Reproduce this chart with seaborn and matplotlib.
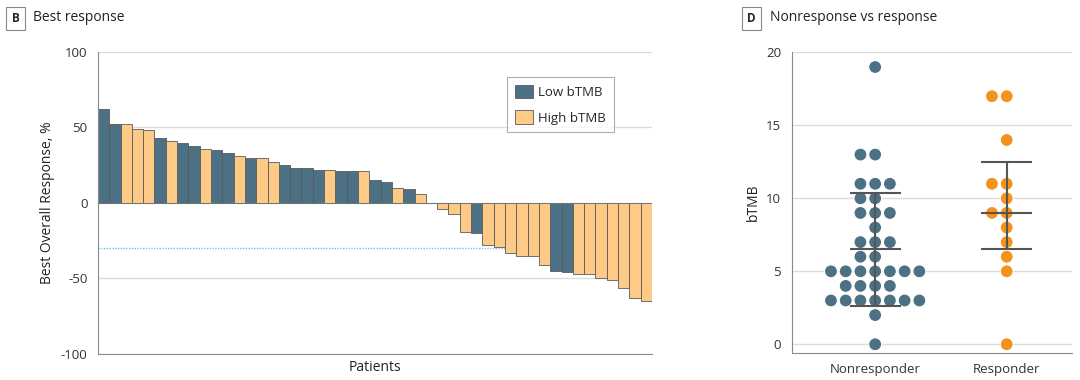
import numpy as np
import pandas as pd
import seaborn as sns
from matplotlib import pyplot as plt

# waterfall data (best overall response, %), sorted as in the figure
response = [62, 52, 52, 49, 48, 43, 41, 40, 38, 36, 35, 33, 31, 30, 30, 27, 25,
            23, 23, 22, 22, 21, 21, 21, 15, 14, 10, 9, 6, 0, -4, -7, -19, -20,
            -28, -29, -33, -35, -35, -41, -45, -46, -47, -47, -50, -51, -56, -63, -65]
tmb_group = ["Low", "Low", "High", "High", "High", "Low", "High", "Low", "Low", "High",
             "Low", "Low", "High", "Low", "High", "High", "Low", "Low", "Low", "Low",
             "High", "Low", "Low", "High", "Low", "Low", "High", "Low", "High", "High",
             "High", "High", "High", "Low", "High", "High", "High", "High", "High", "High",
             "Low", "Low", "High", "High", "High", "High", "High", "High", "High"]

# bTMB by response
nonresponder = [19, 13, 13, 11, 11, 11, 10, 10, 9, 9, 9, 8, 7, 7, 7, 6, 6,
                5, 5, 5, 5, 5, 5, 5, 4, 4, 4, 4, 3, 3, 3, 3, 3, 3, 3, 2, 0]
responder = [17, 17, 14, 11, 11, 10, 9, 9, 8, 7, 6, 5, 0]
resp_labels = ["Nonresponder", "Responder"]
bar_center = [6.5, 9.0]
bar_low = [2.6, 6.5]
bar_high = [10.35, 12.5]

dark = "#4d7184"
light = "#fdca88"
orange = "#f5921e"
grid_c = "#dcdcdc"
spine_c = "#8a8a8a"

sns.set_style("white")
plt.rcParams["font.family"] = ["Open Sans", "DejaVu Sans"]
plt.rcParams["font.size"] = 9.5
plt.rcParams["axes.unicode_minus"] = False

fig = plt.figure(figsize=(10.8, 3.8), dpi=100)

# ---- panel B: waterfall ----
ax1 = fig.add_axes([0.0907, 0.0684, 0.5130, 0.7950])
wf = pd.DataFrame({
    "patient": np.arange(len(response)),
    "response": response,
    "group": [g + " bTMB" for g in tmb_group],
})
sns.barplot(data=wf, x="patient", y="response", hue="group",
            hue_order=["Low bTMB", "High bTMB"], palette=[dark, light],
            saturation=1, dodge=False, width=1, edgecolor="#5a5a5a",
            linewidth=0.6, ax=ax1)
ax1.set_xlim(-0.5, len(response) - 0.5)
ax1.set_ylim(-100, 100)
ax1.set_yticks([-100, -50, 0, 50, 100])
ax1.set_xticks([])
ax1.set_axisbelow(True)
ax1.yaxis.grid(True, color=grid_c, lw=1)
ax1.axhline(-30, color="#7cc0e8", lw=1, ls=(0, (1, 1)), zorder=0.5)
ax1.axhline(0, color="#777777", lw=0.6, zorder=3)
for s in ["top", "right"]:
    ax1.spines[s].set_visible(False)
for s in ["left", "bottom"]:
    ax1.spines[s].set_color(spine_c)
ax1.tick_params(axis="y", length=4, color=spine_c, labelsize=9.5, colors="#333333")
ax1.set_xlabel("Patients", fontsize=10, color="#222222")
ax1.set_ylabel("Best Overall Response, %", fontsize=10, color="#222222")
leg = ax1.legend(loc="upper left", bbox_to_anchor=(0.738, 0.917), borderaxespad=0,
                 fancybox=False, edgecolor="#9a9a9a", handlelength=1.35,
                 handleheight=1.2, handletextpad=0.4, borderpad=0.6,
                 labelspacing=0.85, fontsize=9.5)
leg.get_frame().set_linewidth(0.8)

# ---- panel D: swarm ----
ax2 = fig.add_axes([0.733, 0.071, 0.260, 0.791])
sw = pd.DataFrame({
    "status": [resp_labels[0]] * len(nonresponder) + [resp_labels[1]] * len(responder),
    "bTMB": nonresponder + responder,
})
sns.swarmplot(data=sw, x="status", y="bTMB", hue="status", order=resp_labels,
              palette=[dark, orange], size=9.3, linewidth=0.8, edgecolor="white",
              legend=False, ax=ax2, zorder=3)
for i in range(len(resp_labels)):
    ax2.vlines(i, bar_low[i], bar_high[i], color="#555555", lw=1.5, zorder=4)
    ax2.hlines([bar_low[i], bar_center[i], bar_high[i]], i - 0.195, i + 0.195,
               color="#555555", lw=1.5, zorder=4)
ax2.set_xlim(-0.635, 1.5)
ax2.set_ylim(-0.6, 20)
ax2.set_yticks([0, 5, 10, 15, 20])
ax2.set_axisbelow(True)
ax2.yaxis.grid(True, color=grid_c, lw=1)
for s in ["top", "right"]:
    ax2.spines[s].set_visible(False)
for s in ["left", "bottom"]:
    ax2.spines[s].set_color(spine_c)
ax2.tick_params(axis="both", length=4, color=spine_c, labelsize=9.5, colors="#333333")
ax2.set_xlabel("")
ax2.set_ylabel("bTMB", fontsize=10, color="#222222")

# panel headers
box = dict(boxstyle="square,pad=0.45", fc="white", ec="#888888", lw=0.8)
fig.text(0.0145, 0.951, "B", fontsize=8.5, fontweight="bold", ha="center", va="center", bbox=box)
fig.text(0.031, 0.953, "Best response", fontsize=10, va="center", color="#222222")
fig.text(0.6955, 0.951, "D", fontsize=8.5, fontweight="bold", ha="center", va="center", bbox=box)
fig.text(0.713, 0.953, "Nonresponse vs response", fontsize=10, va="center", color="#222222")

fig.savefig("out.png", dpi=100)
